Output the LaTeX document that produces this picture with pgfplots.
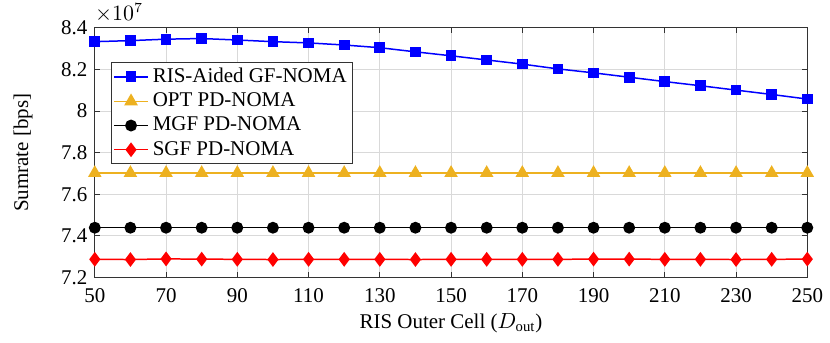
\documentclass[border=0pt]{standalone}
\usepackage{fontspec}
\setmainfont{Liberation Serif}
\usepackage{pgfplots}
\pgfplotsset{compat=1.18}
\definecolor{risblue}{RGB}{0,0,255}
\definecolor{optyellow}{RGB}{237,177,32}
\definecolor{sgfred}{RGB}{255,0,0}

\begin{document}
\fontsize{10.5}{12.6}\selectfont
\begin{tikzpicture}
\begin{axis}[
  width=357pt, height=125pt,
  scale only axis,
  xmin=50, xmax=250,
  ymin=7.2, ymax=8.4,
  xtick={50,70,90,110,130,150,170,190,210,230,250},
  ytick={7.2,7.4,7.6,7.8,8.0,8.2,8.4},
  /pgf/number format/assume math mode=true,
  tick label style={font=\fontsize{10.5}{12.6}\selectfont},
  xticklabel style={yshift=-2pt},
  label style={font=\fontsize{10.5}{12.6}\selectfont},
  xlabel={RIS Outer Cell ($D_{\mathrm{out}}$)},
  xlabel style={yshift=2pt},
  grid=major,
  major grid style={black!15, line width=0.5pt},
  tick align=inside,
  major tick length=2.5pt,
  axis line style={black!80, line width=0.5pt},
  tick style={black!80, line width=0.5pt},
  clip=false,
  legend cell align=left,
  legend style={at={(0.0224,0.864)}, anchor=north west,
    draw=black!80, line width=0.5pt,
    font=\fontsize{10.5}{12.6}\selectfont,
    nodes={inner ysep=1.8pt}, inner xsep=1pt, inner ysep=1pt},
  legend image post style={line width=0.75pt},
  every axis plot/.append style={line width=0.75pt},
]
\addplot[risblue, mark=square*, mark size=2.3pt] coordinates {
  (50,8.334)(60,8.339)(70,8.346)(80,8.349)(90,8.342)(100,8.334)
  (110,8.328)(120,8.318)(130,8.305)(140,8.285)(150,8.266)(160,8.246)
  (170,8.226)(180,8.203)(190,8.184)(200,8.163)(210,8.142)(220,8.122)
  (230,8.101)(240,8.080)(250,8.058)};
\addlegendentry{RIS-Aided GF-NOMA}
\addplot[optyellow, mark=triangle*, mark size=3.2pt] coordinates {
  (50,7.702)(60,7.702)(70,7.702)(80,7.702)(90,7.702)(100,7.702)
  (110,7.702)(120,7.702)(130,7.702)(140,7.702)(150,7.702)(160,7.702)
  (170,7.702)(180,7.702)(190,7.702)(200,7.702)(210,7.702)(220,7.702)
  (230,7.702)(240,7.702)(250,7.702)};
\addlegendentry{OPT PD-NOMA}
\addplot[black, mark=*, mark size=2.6pt] coordinates {
  (50,7.439)(60,7.439)(70,7.439)(80,7.439)(90,7.439)(100,7.439)
  (110,7.439)(120,7.439)(130,7.439)(140,7.439)(150,7.439)(160,7.439)
  (170,7.439)(180,7.439)(190,7.439)(200,7.439)(210,7.439)(220,7.439)
  (230,7.439)(240,7.439)(250,7.439)};
\addlegendentry{MGF PD-NOMA}
\addplot[sgfred, mark=diamond*, mark size=3.1pt] coordinates {
  (50,7.287)(60,7.286)(70,7.289)(80,7.288)(90,7.287)(100,7.286)
  (110,7.287)(120,7.287)(130,7.287)(140,7.286)(150,7.287)(160,7.287)
  (170,7.287)(180,7.287)(190,7.288)(200,7.288)(210,7.287)(220,7.287)
  (230,7.286)(240,7.287)(250,7.288)};
\addlegendentry{SGF PD-NOMA}
\node[anchor=south west, inner sep=0pt, font=\fontsize{10.5}{12.6}\selectfont]
  at (rel axis cs:0,1) [yshift=2.5pt] {$\times 10^{7}$};
\end{axis}
% y label, set by hand
\node[rotate=90, anchor=south, inner sep=0pt] at ([xshift=-31pt]current axis.west)
  {Sumrate [bps]};
% page edges as in the reference
\path (current axis.south west) ++(-47.5pt,-32.5pt);
\path (current axis.north east) ++(10.5pt,14pt);
\end{tikzpicture}
\end{document}
